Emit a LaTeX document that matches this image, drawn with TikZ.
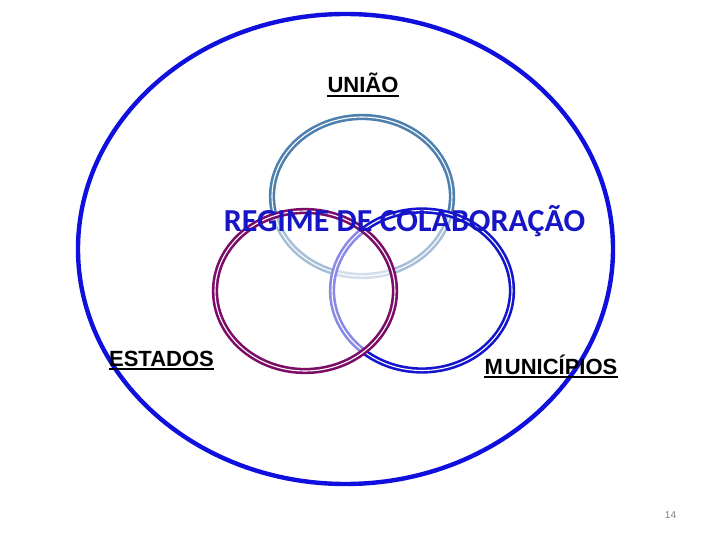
\documentclass[tikz,border=0pt]{standalone}
\usepackage{fontspec}
\setmainfont{Liberation Sans}
\newfontfamily\calfont{Carlito}
\definecolor{bigblue}{RGB}{15,15,222}
\definecolor{steel}{RGB}{78,128,175}
\definecolor{ringblue}{RGB}{20,20,205}
\definecolor{purp}{RGB}{125,12,105}
\definecolor{regtext}{RGB}{22,22,200}
\begin{document}
\begin{tikzpicture}[x=1pt,y=-1pt,
  ring/.style={line width=2.6pt, double=white, double distance=1.1pt},
  lbl/.style={inner sep=0pt, anchor=base, font=\fontsize{22}{26}\selectfont\bfseries},
  uline/.style={line width=2pt}]
\useasboundingbox (0,0) rectangle (720,540);
\fill[white] (0,0) rectangle (720,540);
% outer ellipse
\draw[line width=4.4pt, bigblue] (345.5,249) ellipse [x radius=267.5pt, y radius=235pt];
% venn rings
\draw[ring, steel] (362,196.5) ellipse [x radius=90pt, y radius=79.5pt];
\draw[ring, ringblue, fill=white, fill opacity=0.5] (422,290.5) ellipse [x radius=90pt, y radius=80pt];
\draw[ring, purp, fill=white, fill opacity=0.5] (305,291) ellipse [x radius=90pt, y radius=80pt];
% labels
\node[lbl] (uniao) at (363,93) {UNIÃO};
\draw[uline] ([yshift=-2.8pt]uniao.base west) -- ([yshift=-2.8pt]uniao.base east);
\node[lbl] (estados) at (161.5,366) {ESTADOS};
\draw[uline] ([yshift=-2.8pt]estados.base west) -- ([yshift=-2.8pt]estados.base east);
\node[lbl] (munic) at (551,374) {M\kern2pt UNICÍPIOS};
\draw[uline] ([yshift=-2.8pt]munic.base west) -- ([yshift=-2.8pt]munic.base east);
\node[inner sep=0pt, anchor=base, text=regtext, font=\calfont\fontsize{32}{37}\selectfont\bfseries] (regime) at (404.5,231) {REGIME DE COLABORAÇÃO};
\node[inner sep=0pt, anchor=base, text=gray, font=\fontsize{10}{12}\selectfont] (page) at (670.5,518) {14};
\end{tikzpicture}
\end{document}
